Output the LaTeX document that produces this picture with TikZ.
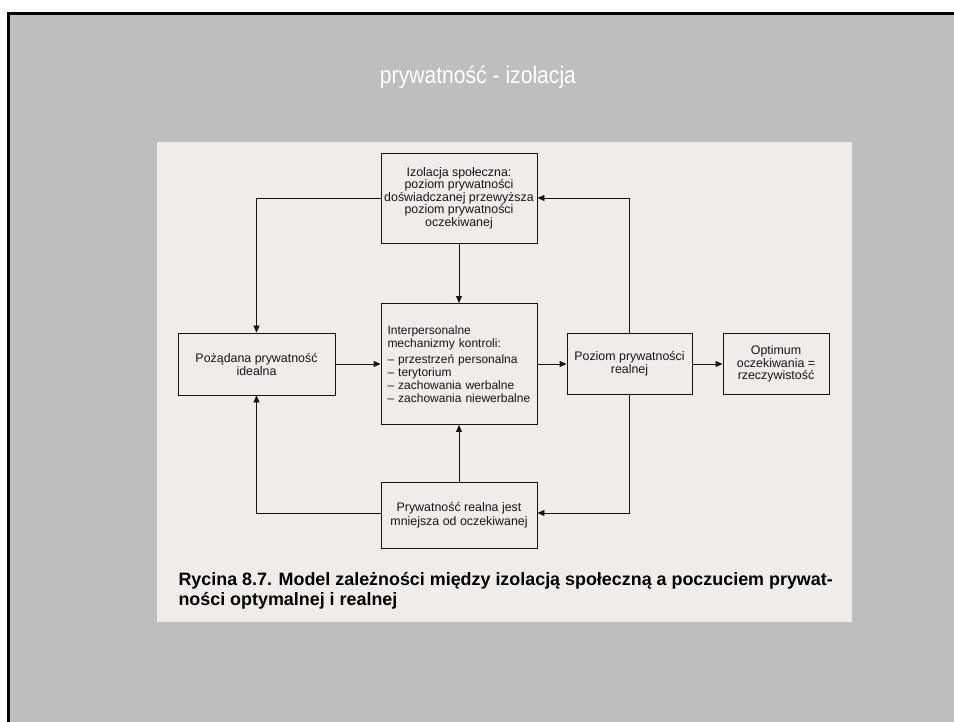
\documentclass[tikz,border=0pt]{standalone}
\usepackage{fontspec}
\setmainfont{Liberation Sans}
\newfontfamily\titlefont[FakeStretch=0.88]{Liberation Sans}
\newfontfamily\capfont{Liberation Sans Bold}
\usetikzlibrary{arrows.meta}
\definecolor{slidegray}{HTML}{BEBEBE}
\definecolor{scanfill}{HTML}{EFECEC}
\definecolor{ink}{HTML}{151515}
\tikzset{
  boxnode/.style={draw=ink, line width=0.9pt, fill=scanfill, inner sep=0pt, align=center,
    font=\fontsize{12.4}{12.4}\selectfont, text=ink},
  arr/.style={draw=ink, line width=0.9pt, -{Triangle[length=7pt,width=6pt]}},
  ln/.style={draw=ink, line width=0.9pt}
}
\begin{document}
\begin{tikzpicture}[x=1pt,y=-1pt]
\useasboundingbox (0,0) rectangle (954,722);
\fill[white] (0,0) rectangle (954,722);
\fill[slidegray] (8.5,13.5) rectangle (954,722);
\draw[line width=3pt] (8.5,722) -- (8.5,13.5) -- (956,13.5);
\fill[scanfill] (157,142) rectangle (852,622);

\node[text=white, font=\titlefont\fontsize{24}{24}\selectfont] (title) at (478,77) {prywatność - izolacja};

\node[boxnode, minimum width=156pt, minimum height=90pt] (top) at (459,198)
  {Izolacja społeczna:\\ poziom prywatności\\ doświadczanej przewyższa\\ poziom prywatności\\ oczekiwanej};
\node[boxnode, minimum width=156pt, minimum height=121pt, align=left, text width=143pt, inner xsep=6.5pt,
      font=\fontsize{12.0}{12.8}\selectfont] (mid) at (459,364)
  {Interpersonalne\\ mechanizmy kontroli:\\[3.5pt] -- przestrzeń personalna\\ -- terytorium\\ -- zachowania werbalne\\ -- zachowania niewerbalne};
\node[boxnode, minimum width=157pt, minimum height=62pt, font=\fontsize{12.4}{13}\selectfont] (left) at (256.5,364)
  {Pożądana prywatność\\ idealna};
\node[boxnode, minimum width=125pt, minimum height=61pt, font=\fontsize{12.4}{13}\selectfont] (poziom) at (629.5,364)
  {Poziom prywatności\\ realnej};
\node[boxnode, minimum width=106pt, minimum height=61pt] (opt) at (776,364)
  {Optimum\\ oczekiwania =\\ rzeczywistość};
\node[boxnode, minimum width=156pt, minimum height=66pt, font=\fontsize{12.4}{14}\selectfont] (bot) at (459,515)
  {Prywatność realna jest\\ mniejsza od oczekiwanej};

\draw[arr] (top.south) -- (mid.north);
\draw[arr] (top.west) -| (left.north);
\draw[arr] (left.east) -- (mid.west);
\draw[arr] (mid.east) -- (poziom.west);
\draw[arr] (poziom.east) -- (opt.west);
\draw[arr] (poziom.north) |- (top.east);
\draw[arr] (poziom.south) |- ([yshift=2pt]bot.east);
\draw[arr] (bot.north) -- (mid.south);
\draw[arr] ([yshift=2pt]bot.west) -| (left.south);

\node[anchor=west, align=left, text=black, font=\capfont\fontsize{17.9}{20}\selectfont] (cap) at (175,591)
  {Rycina 8.7. Model zależności między izolacją społeczną a poczuciem prywat-\\ ności optymalnej i realnej};
\end{tikzpicture}
\end{document}
